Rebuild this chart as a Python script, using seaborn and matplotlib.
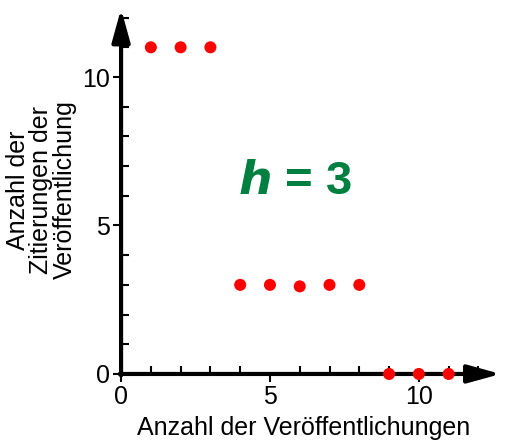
import matplotlib
matplotlib.use("Agg")
import matplotlib.pyplot as plt
import seaborn as sns
import pandas as pd
from matplotlib.ticker import MultipleLocator

# data: publications ranked by citations
pubs = [1, 2, 3, 4, 5, 6, 7, 8, 9, 10, 11]
cites = [11, 11, 11, 3, 3, 2.95, 3, 3, 0, 0, 0]
h_index = 3

df = pd.DataFrame({"pub": pubs, "cites": cites})

sns.set_style("white")
plt.rcParams["font.family"] = ["Liberation Sans", "DejaVu Sans"]
plt.rcParams["text.color"] = "black"
plt.rcParams["axes.labelcolor"] = "black"
plt.rcParams["xtick.color"] = "black"
plt.rcParams["ytick.color"] = "black"

fig = plt.figure(figsize=(5.13, 4.41), dpi=100)
ax = fig.add_axes([0.236, 0.152, 0.743, 0.835])
ax.set_xlim(0, 12.8)
ax.set_ylim(0, 12.4)

for s in ax.spines.values():
    s.set_visible(False)

arrow_kw = dict(arrowstyle="-|>,head_length=2.0,head_width=0.55", lw=3,
                color="black", shrinkA=0, shrinkB=0)
ax.annotate("", xy=(12.75, 0), xytext=(-0.05, 0), arrowprops=arrow_kw,
            annotation_clip=False)
ax.annotate("", xy=(0, 12.3), xytext=(0, -0.05), arrowprops=arrow_kw,
            annotation_clip=False)

sns.scatterplot(data=df, x="pub", y="cites", ax=ax, color="red", s=75,
                edgecolor="none", zorder=5, clip_on=False, legend=False)

ax.xaxis.set_major_locator(MultipleLocator(5))
ax.yaxis.set_major_locator(MultipleLocator(5))
ax.xaxis.set_minor_locator(MultipleLocator(1))
ax.yaxis.set_minor_locator(MultipleLocator(1))
ax.tick_params(which="major", direction="out", length=6, width=1.5,
               labelsize=18, pad=2)
ax.tick_params(which="minor", direction="in", length=6, width=1.5)
ax.tick_params(axis="x", which="both", bottom=True)
ax.tick_params(axis="y", which="both", left=True)

ax.set_xlabel("Anzahl der Veröffentlichungen", fontsize=18)
ax.xaxis.set_label_coords(0.48, -0.113)
ax.set_ylabel("Anzahl der\nZitierungen der\nVeröffentlichung", fontsize=18,
              labelpad=4, linespacing=0.95)

ax.text(5.85, 6.45, r"$\mathbfit{h}$" + f" = {h_index}", fontsize=34,
        fontweight="bold", color="#008040", ha="center", va="center")

fig.savefig("out.png", dpi=100)
